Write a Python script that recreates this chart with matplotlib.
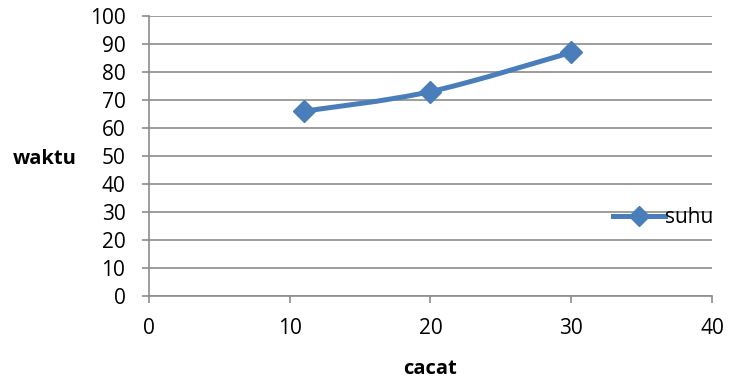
import matplotlib.pyplot as plt
from matplotlib.path import Path
from matplotlib.patches import PathPatch
from matplotlib.lines import Line2D

plt.rcParams['font.family'] = ['Open Sans', 'DejaVu Sans']

cacat = [11, 20, 30]
waktu = [66, 73, 87]
x_ticks = [0, 10, 20, 30, 40]
y_ticks = list(range(0, 101, 10))

blue = '#4A7EBB'
grey = '#8C8C8C'


def smooth_path(xs, ys, tension=1 / 6):
    # Excel-style smoothed line: cubic bezier through every point
    pts = list(zip(xs, ys))
    verts = [pts[0]]
    codes = [Path.MOVETO]
    for i in range(len(pts) - 1):
        p0 = pts[i - 1] if i > 0 else pts[i]
        p1 = pts[i]
        p2 = pts[i + 1]
        p3 = pts[i + 2] if i + 2 < len(pts) else pts[i + 1]
        c1 = (p1[0] + (p2[0] - p0[0]) * tension, p1[1] + (p2[1] - p0[1]) * tension)
        c2 = (p2[0] - (p3[0] - p1[0]) * tension, p2[1] - (p3[1] - p1[1]) * tension)
        verts += [c1, c2, p2]
        codes += [Path.CURVE4] * 3
    return Path(verts, codes)


fig = plt.figure(figsize=(7.3, 3.81), dpi=100)
ax = fig.add_axes([0.2041, 0.2231, 0.7712, 0.7349])

ax.add_patch(PathPatch(smooth_path(cacat, waktu), fill=False, edgecolor=blue,
                       lw=3.6, capstyle='round', joinstyle='round', zorder=3))
ax.plot(cacat, waktu, linestyle='none', marker='D', markersize=11.5,
        color=blue, zorder=4)

ax.set_xlim(0, 40)
ax.set_ylim(0, 100)
ax.set_xticks(x_ticks)
ax.set_yticks(y_ticks)
ax.grid(axis='y', color=grey, lw=1.2)
ax.set_axisbelow(True)

for side in ['top', 'right']:
    ax.spines[side].set_visible(False)
for side in ['left', 'bottom']:
    ax.spines[side].set_color(grey)
    ax.spines[side].set_linewidth(1.2)

ax.tick_params(axis='y', length=5, width=1.2, color=grey, labelsize=15, pad=12)
ax.tick_params(axis='x', length=5, width=1.2, color=grey, labelsize=15, pad=11,
               direction='out')

ax.set_xlabel('cacat', fontsize=14.5, fontweight='bold', labelpad=14)
ax.set_ylabel('waktu', fontsize=14.5, fontweight='bold', rotation=0,
              ha='center', va='center')
ax.yaxis.set_label_coords(-0.186, 0.49)

handle = Line2D([], [], color=blue, lw=3.6, marker='D', markersize=10)
ax.legend([handle], ['suhu'], loc='center left', bbox_to_anchor=(0.81, 0.28),
          frameon=False, fontsize=15, handlelength=2.5, handletextpad=0.0,
          borderaxespad=0)

fig.savefig('out.png', dpi=100)
